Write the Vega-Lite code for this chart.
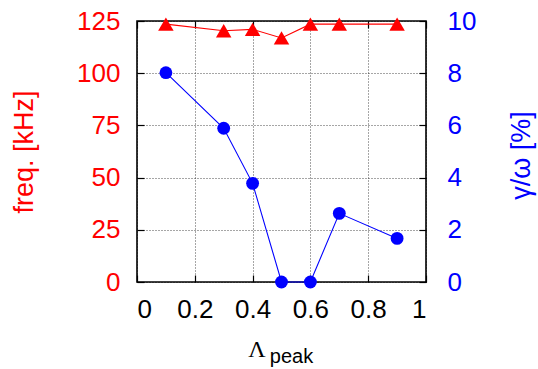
{
  "$schema": "https://vega.github.io/schema/vega-lite/v6.json",
  "width": 289,
  "height": 261,
  "autosize": {"type": "none"},
  "padding": {"left": 137, "top": 21, "right": 112, "bottom": 87},
  "background": "white",
  "config": {
    "view": {"stroke": "black", "strokeWidth": 1.6},
    "font": "Liberation Sans",
    "axis": {"labelFont": "Liberation Sans", "titleFont": "Liberation Sans", "labelFontSize": 26, "titleFontSize": 27, "titleFontWeight": "normal", "domain": false, "tickColor": "black", "tickWidth": 1.2, "tickSize": -7, "gridColor": "black", "gridDash": [1, 2], "gridWidth": 1, "gridOpacity": 0.7}
  },
  "data": {"values": [
    {"lam": 0.1, "freq": 123.5, "gamma": 8.02},
    {"lam": 0.3, "freq": 120.3, "gamma": 5.89},
    {"lam": 0.4, "freq": 121.0, "gamma": 3.78},
    {"lam": 0.5, "freq": 116.9, "gamma": 0},
    {"lam": 0.6, "freq": 123.5, "gamma": 0},
    {"lam": 0.7, "freq": 123.5, "gamma": 2.63},
    {"lam": 0.9, "freq": 123.5, "gamma": 1.67}
  ]},
  "layer": [
    {
      "layer": [
        {
          "mark": {"type": "line", "color": "#ff0000", "strokeWidth": 1.1},
          "encoding": {
            "x": {"field": "lam", "type": "quantitative", "scale": {"domain": [0, 1], "nice": false, "zero": false, "padding": 0}, "axis": {"orient": "bottom", "values": [0, 0.2, 0.4, 0.6, 0.8, 1], "format": "~g", "labelBaseline": "alphabetic", "labelPadding": 42, "labelDx": 3, "labelColor": "black", "title": "Λ", "titleFont": "Liberation Serif", "titleFontSize": 24, "titleColor": "black", "titleAlign": "center", "titleBaseline": "alphabetic", "titleX": 119.5, "titleY": 74, "grid": true}},
            "y": {"field": "freq", "type": "quantitative", "scale": {"domain": [0, 125], "nice": false, "zero": false, "padding": 0}, "axis": {"orient": "left", "values": [0, 25, 50, 75, 100, 125], "labelColor": "#ff0000", "labelPadding": 24, "labelDy": 1.5, "title": "freq. [kHz]", "titleColor": "#ff0000", "titleAngle": 270, "titleAlign": "center", "titleBaseline": "alphabetic", "titleX": -105, "titleY": 130.5, "grid": true}}
          }
        },
        {
          "mark": {"type": "point", "shape": "triangle-up", "filled": true, "color": "#ff0000", "size": 240, "opacity": 1},
          "encoding": {
            "x": {"field": "lam", "type": "quantitative"},
            "y": {"field": "freq", "type": "quantitative"}
          }
        }
      ]
    },
    {
      "layer": [
        {
          "mark": {"type": "line", "color": "#0000ff", "strokeWidth": 1.1},
          "encoding": {
            "x": {"field": "lam", "type": "quantitative", "scale": {"domain": [0, 1], "nice": false, "zero": false, "padding": 0}, "axis": {"orient": "top", "values": [0, 0.2, 0.4, 0.6, 0.8, 1], "labels": false, "title": "peak", "titleFontSize": 20, "titleColor": "black", "titleAlign": "center", "titleBaseline": "alphabetic", "titleX": 154, "titleY": 341, "grid": false}},
            "y": {"field": "gamma", "type": "quantitative", "scale": {"domain": [0, 10], "nice": false, "zero": false, "padding": 0}, "axis": {"orient": "right", "values": [0, 2, 4, 6, 8, 10], "labelColor": "#0000ff", "labelPadding": 28, "labelDy": 1.5, "title": "γ/ω [%]", "titleAngle": 270, "titleAlign": "center", "titleBaseline": "alphabetic", "titleX": 103.5, "titleY": 134, "titleColor": "#0000ff", "grid": false}}
          }
        },
        {
          "mark": {"type": "circle", "color": "#0000ff", "size": 165, "opacity": 1},
          "encoding": {
            "x": {"field": "lam", "type": "quantitative"},
            "y": {"field": "gamma", "type": "quantitative"}
          }
        }
      ]
    }
  ],
  "resolve": {"scale": {"y": "independent", "x": "independent"}, "axis": {"x": "independent", "y": "independent"}}
}
